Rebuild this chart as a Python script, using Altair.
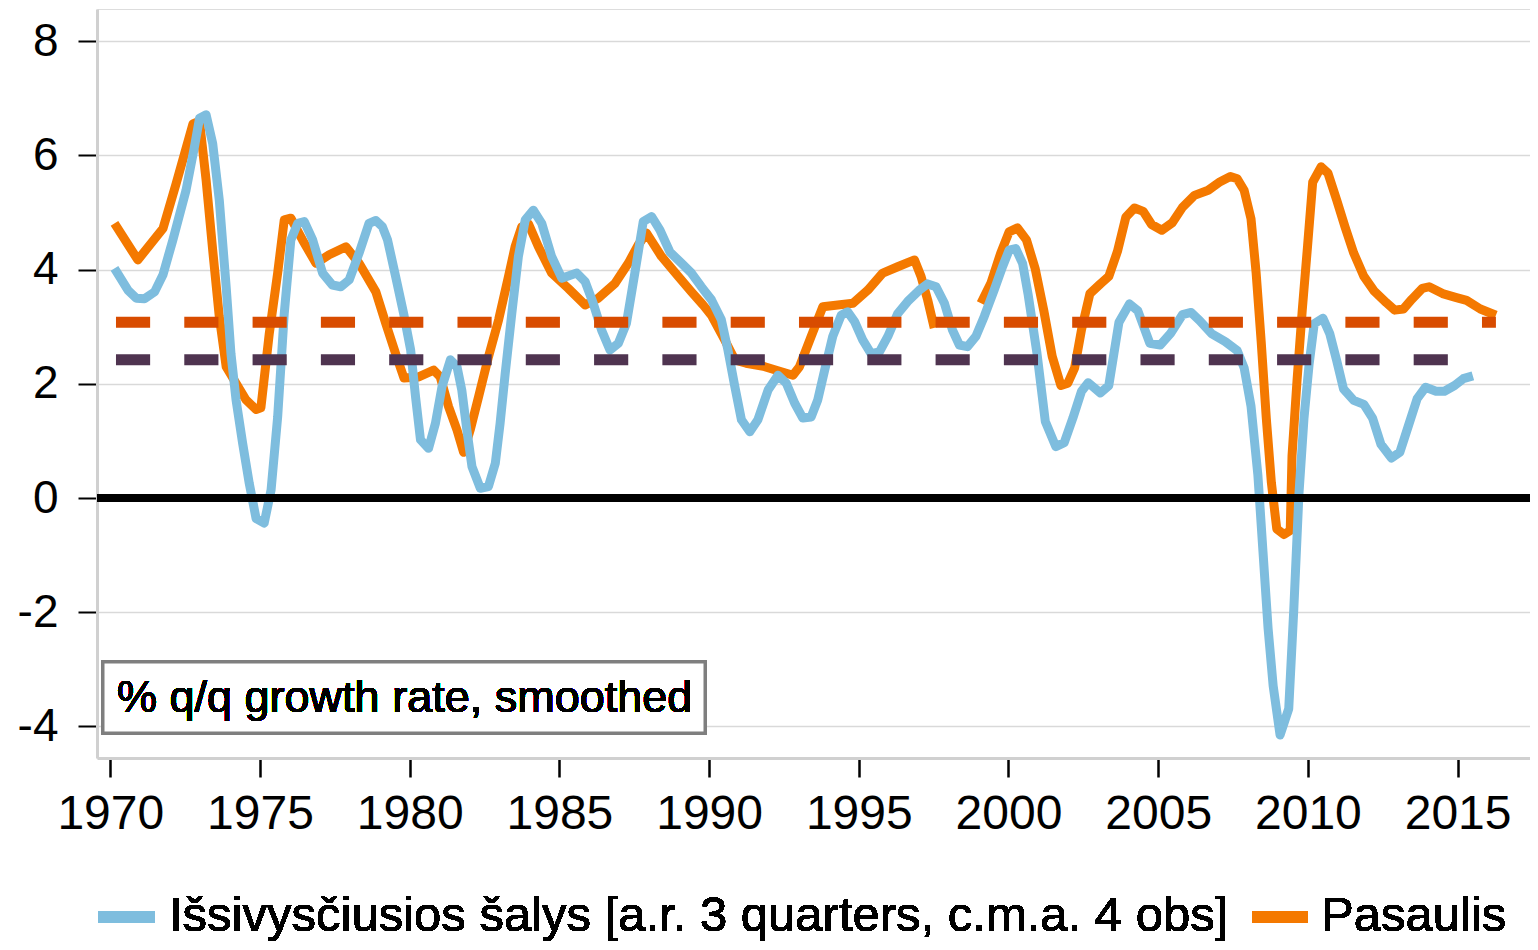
import altair as alt
import pandas as pd

# ---------------- data ----------------
blue_year = [1970.14, 1970.59, 1970.87, 1971.14, 1971.48, 1971.76, 1972.09, 1972.53, 1972.81, 1972.98,
             1973.2, 1973.42, 1973.64, 1973.87, 1974.03, 1974.2, 1974.42, 1974.64, 1974.87, 1975.14,
             1975.37, 1975.59, 1975.81, 1976.03, 1976.26, 1976.48, 1976.76, 1977.09, 1977.42, 1977.7,
             1977.98, 1978.31, 1978.64, 1978.87, 1979.09, 1979.26, 1979.53, 1979.81, 1980.03, 1980.2,
             1980.36, 1980.63, 1980.86, 1981.08, 1981.36, 1981.58, 1981.74, 1981.91, 1982.08, 1982.36,
             1982.63, 1982.86, 1983.02, 1983.19, 1983.41, 1983.63, 1983.86, 1984.13, 1984.41, 1984.74,
             1985.08, 1985.58, 1985.86, 1986.13, 1986.41, 1986.69, 1986.97, 1987.24, 1987.52, 1987.8,
             1988.08, 1988.36, 1988.69, 1989.08, 1989.41, 1989.74, 1990.08, 1990.41, 1990.63, 1990.86,
             1991.08, 1991.36, 1991.63, 1991.97, 1992.3, 1992.58, 1992.86, 1993.13, 1993.41, 1993.63,
             1993.86, 1994.13, 1994.41, 1994.63, 1994.86, 1995.13, 1995.41, 1995.69, 1995.97, 1996.3,
             1996.63, 1997.02, 1997.3, 1997.58, 1997.86, 1998.13, 1998.36, 1998.63, 1998.91, 1999.19,
             1999.52, 1999.8, 2000.02, 2000.24, 2000.47, 2000.66, 2000.95, 2001.23, 2001.58, 2001.86,
             2002.15, 2002.44, 2002.66, 2003.07, 2003.35, 2003.69, 2004.04, 2004.32, 2004.72, 2005.07,
             2005.41, 2005.81, 2006.1, 2006.38, 2006.78, 2007.24, 2007.64, 2007.87, 2008.1, 2008.33,
             2008.5, 2008.67, 2008.84, 2009.07, 2009.36, 2009.53, 2009.7, 2009.87, 2010.04, 2010.21,
             2010.5, 2010.73, 2010.96, 2011.19, 2011.53, 2011.87, 2012.16, 2012.44, 2012.79, 2013.07,
             2013.36, 2013.65, 2013.93, 2014.28, 2014.56, 2014.9, 2015.19, 2015.51]
blue_val = [4.02, 3.64, 3.50, 3.49, 3.61, 3.91, 4.52, 5.39, 6.15, 6.65,
            6.71, 6.21, 5.22, 3.70, 2.53, 1.72, 0.96, 0.26, -0.36, -0.44,
            0.14, 1.42, 3.23, 4.52, 4.81, 4.84, 4.52, 3.94, 3.73, 3.70,
            3.82, 4.29, 4.81, 4.86, 4.75, 4.52, 3.88, 3.20, 2.60, 1.75,
            1.02, 0.87, 1.31, 1.95, 2.42, 2.30, 1.89, 1.19, 0.55, 0.17,
            0.20, 0.61, 1.31, 2.18, 3.23, 4.23, 4.87, 5.04, 4.81, 4.23,
            3.85, 3.94, 3.79, 3.41, 2.94, 2.59, 2.71, 3.06, 3.94, 4.84,
            4.93, 4.69, 4.31, 4.11, 3.94, 3.70, 3.47, 3.12, 2.59, 1.95,
            1.37, 1.16, 1.37, 1.89, 2.15, 2.01, 1.66, 1.40, 1.42, 1.72,
            2.24, 2.83, 3.20, 3.26, 3.09, 2.77, 2.53, 2.56, 2.83, 3.23,
            3.44, 3.64, 3.75, 3.70, 3.41, 2.94, 2.68, 2.65, 2.83, 3.18,
            3.64, 4.05, 4.34, 4.37, 4.11, 3.55, 2.54, 1.34, 0.90, 0.97,
            1.40, 1.87, 2.02, 1.84, 1.97, 3.08, 3.40, 3.28, 2.71, 2.68,
            2.88, 3.21, 3.25, 3.11, 2.88, 2.74, 2.58, 2.28, 1.61, 0.40,
            -0.94, -2.28, -3.29, -4.15, -3.69, -1.94, 0.06, 1.40, 2.34, 3.05,
            3.15, 2.88, 2.41, 1.91, 1.71, 1.64, 1.40, 0.94, 0.70, 0.80,
            1.27, 1.74, 1.94, 1.87, 1.87, 1.97, 2.09, 2.14]

# world series, first part (ends 1997), then a gap, second part (from 1999)
orange1_year = [1970.14, 1970.92, 1971.76, 1972.2, 1972.76, 1972.98, 1973.2, 1973.42, 1973.64, 1973.87,
                1974.2, 1974.53, 1974.87, 1975.03, 1975.31, 1975.59, 1975.81, 1976.03, 1976.42, 1976.87,
                1977.31, 1977.87, 1978.31, 1978.87, 1979.2, 1979.53, 1979.81, 1980.3, 1980.8, 1981.02,
                1981.3, 1981.58, 1981.8, 1982.02, 1982.3, 1982.63, 1982.97, 1983.3, 1983.52, 1983.74,
                1983.97, 1984.3, 1984.74, 1985.3, 1985.86, 1986.3, 1986.86, 1987.3, 1987.63, 1987.91,
                1988.41, 1988.97, 1989.41, 1989.8, 1990.08, 1990.52, 1990.86, 1991.24, 1991.86, 1992.41,
                1992.8, 1993.02, 1993.41, 1993.8, 1994.3, 1994.8, 1995.3, 1995.8, 1996.3, 1996.86,
                1997.08, 1997.3, 1997.52]
orange1_val = [4.81, 4.17, 4.72, 5.51, 6.55, 6.60, 5.57, 4.34, 3.18, 2.30,
               2.01, 1.72, 1.55, 1.58, 2.88, 3.94, 4.87, 4.90, 4.52, 4.11,
               4.26, 4.40, 4.11, 3.61, 3.06, 2.53, 2.10, 2.12, 2.24, 2.12,
               1.60, 1.19, 0.80, 1.19, 1.77, 2.47, 3.12, 3.88, 4.40, 4.75,
               4.80, 4.40, 3.94, 3.67, 3.38, 3.50, 3.76, 4.11, 4.43, 4.64,
               4.23, 3.88, 3.61, 3.38, 3.20, 2.77, 2.42, 2.36, 2.30, 2.21,
               2.15, 2.30, 2.83, 3.35, 3.38, 3.41, 3.64, 3.94, 4.05, 4.17,
               3.88, 3.47, 2.98]
orange2_year = [1999.08, 1999.41, 1999.74, 2000.02, 2000.3, 2000.6, 2000.89, 2001.18, 2001.46, 2001.75,
                2001.98, 2002.21, 2002.44, 2002.72, 2003.07, 2003.35, 2003.64, 2003.92, 2004.21, 2004.5,
                2004.78, 2005.12, 2005.47, 2005.81, 2006.21, 2006.67, 2007.07, 2007.41, 2007.64, 2007.87,
                2008.1, 2008.27, 2008.44, 2008.61, 2008.78, 2008.96, 2009.2, 2009.41, 2009.47, 2009.64,
                2009.81, 2009.99, 2010.16, 2010.44, 2010.67, 2010.96, 2011.24, 2011.53, 2011.87, 2012.22,
                2012.62, 2012.9, 2013.19, 2013.47, 2013.82, 2014.05, 2014.5, 2014.96, 2015.3, 2015.76,
                2016.28]
orange2_val = [3.41, 3.76, 4.29, 4.66, 4.73, 4.52, 4.02, 3.28, 2.48, 1.97,
               2.01, 2.28, 2.95, 3.58, 3.75, 3.88, 4.32, 4.92, 5.08, 5.02,
               4.79, 4.69, 4.82, 5.09, 5.30, 5.39, 5.54, 5.63, 5.59, 5.39,
               4.89, 3.95, 2.74, 1.40, 0.27, -0.54, -0.64, -0.57, 0.74, 2.08,
               3.28, 4.42, 5.53, 5.80, 5.69, 5.22, 4.75, 4.29, 3.88, 3.62,
               3.42, 3.29, 3.31, 3.48, 3.67, 3.70, 3.58, 3.51, 3.46, 3.31,
               3.20]

# long-run averages (dashed lines)
avg_names = ["Pasaulis vidurkis", "Išsivysčiusios šalys vidurkis"]
avg_values = [3.08, 2.42]
avg_start = [1970.19, 1970.19]
avg_end = [2016.28, 2015.55]

x_ticks = [1970, 1975, 1980, 1985, 1990, 1995, 2000, 2005, 2010, 2015]
y_ticks = [-4, -2, 0, 2, 4, 6, 8]
legend_labels = ["Išsivysčiusios šalys [a.r. 3 quarters, c.m.a. 4 obs]", "Pasaulis"]
note_text = "% q/q growth rate, smoothed"

# ---------------- styling ----------------
FONT = "Liberation Sans"
BLUE = "#7EBDDE"
ORANGE = "#F47900"
AVG_COLORS = ["#D84C00", "#4F3450"]
W, H = 1433, 749
LEG_Y = 908   # legend swatch centre (plot coordinates)
LEG_BASE = 922  # legend text baseline (plot coordinates)

blue_df = pd.DataFrame({"year": blue_year, "value": blue_val})
orange_df = pd.DataFrame({
    "year": orange1_year + orange2_year,
    "value": orange1_val + orange2_val,
    "seg": [1] * len(orange1_year) + [2] * len(orange2_year),
})
avg_df = pd.DataFrame({"name": avg_names, "value": avg_values,
                       "start": avg_start, "end": avg_end})

xscale = alt.Scale(domain=[1969.556, 1969.556 + W / 29.94], nice=False, zero=False)
yscale = alt.Scale(domain=[-4.553, 8.564], nice=False, zero=False)

xaxis = alt.Axis(values=x_ticks, labelExpr="'' + datum.value", title=None, grid=False,
                 tickSize=19, tickWidth=2.5, tickColor="black",
                 domainColor="#d0d0d0", domainWidth=3,
                 labelFont=FONT, labelFontSize=48, labelColor="black",
                 labelPadding=13, labelFlush=False, labelOverlap=False)
yaxis = alt.Axis(values=y_ticks, labelExpr="'' + datum.value", title=None, grid=True,
                 gridColor="#d9d9d9", gridWidth=1.5,
                 tickSize=19, tickWidth=2, tickColor="black",
                 domainColor="#d0d0d0", domainWidth=3,
                 labelFont=FONT, labelFontSize=46, labelColor="black",
                 labelPadding=20, labelOverlap=False)


def X(field):
    return alt.X(f"{field}:Q", scale=xscale, axis=xaxis)


def Y(field):
    return alt.Y(f"{field}:Q", scale=yscale, axis=yaxis)


orange_line = alt.Chart(orange_df).mark_line(
    color=ORANGE, strokeWidth=9, strokeJoin="round", strokeCap="butt"
).encode(x=X("year"), y=Y("value"), detail="seg:N", order="year:Q")

blue_line = alt.Chart(blue_df).mark_line(
    color=BLUE, strokeWidth=9, strokeJoin="round", strokeCap="butt"
).encode(x=X("year"), y=Y("value"), order="year:Q")

zero_line = alt.Chart(blue_df).mark_rule(color="black", strokeWidth=7).encode(
    y=alt.datum(0, scale=yscale), x=alt.value(0), x2=alt.value(W)
)

avg_lines = alt.Chart(avg_df).mark_rule(
    strokeWidth=11, strokeDash=[34.15, 34.15], strokeCap="butt"
).encode(
    x=X("start"), x2="end:Q", y=Y("value"),
    color=alt.Color("name:N", scale=alt.Scale(domain=avg_names, range=AVG_COLORS), legend=None),
)

# annotation box
note_box = alt.Chart(blue_df).mark_rect(
    fill="white", stroke="#7f7f7f", strokeWidth=3
).encode(x=alt.value(6), x2=alt.value(608), y=alt.value(653), y2=alt.value(724))
note = alt.Chart(blue_df).mark_text(
    align="left", baseline="middle", font=FONT, fontSize=45, color="black"
).encode(x=alt.value(20), y=alt.value(689), text=alt.value(note_text))

# legend (drawn below the plot)
leg_sw1 = alt.Chart(blue_df).mark_rule(color=BLUE, strokeWidth=11, strokeCap="butt").encode(
    x=alt.value(1), x2=alt.value(58), y=alt.value(LEG_Y))
leg_tx1 = alt.Chart(blue_df).mark_text(
    align="left", baseline="alphabetic", font=FONT, fontSize=49, color="black"
).encode(x=alt.value(72), y=alt.value(LEG_BASE), text=alt.value(legend_labels[0]))
leg_sw2 = alt.Chart(blue_df).mark_rule(color=ORANGE, strokeWidth=11, strokeCap="butt").encode(
    x=alt.value(1155), x2=alt.value(1211), y=alt.value(LEG_Y))
leg_tx2 = alt.Chart(blue_df).mark_text(
    align="left", baseline="alphabetic", font=FONT, fontSize=49, color="black"
).encode(x=alt.value(1224), y=alt.value(LEG_BASE), text=alt.value(legend_labels[1]))

chart = alt.layer(
    orange_line, blue_line, zero_line, avg_lines, note_box, note,
    leg_sw1, leg_tx1, leg_sw2, leg_tx2,
).properties(
    width=W, height=H,
    autosize=alt.AutoSizeParams(type="none"),
    padding={"left": 89, "top": 1, "right": 0, "bottom": 184},
).configure_view(stroke=None).configure(background="white")

chart.save("out.html", embed_options={"renderer": "svg", "actions": False})
